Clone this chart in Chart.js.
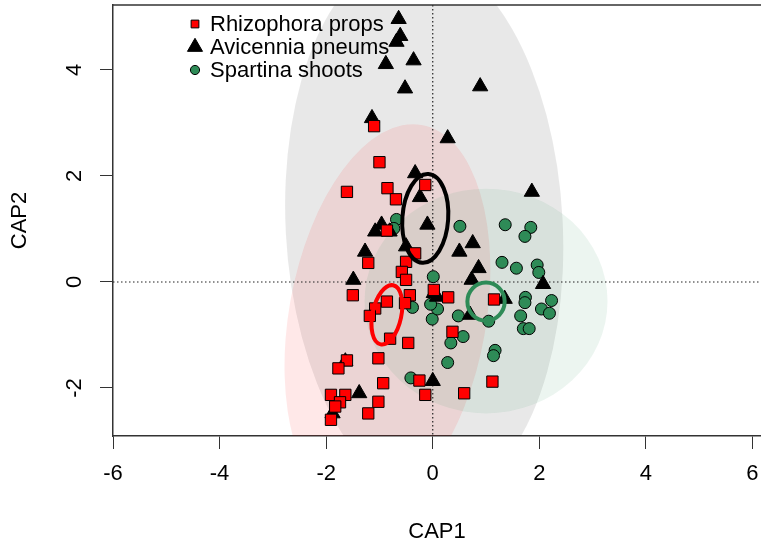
<!DOCTYPE html>
<html>
<head>
<meta charset="utf-8">
<script src="https://cdn.jsdelivr.net/npm/chart.js@4.4.1/dist/chart.umd.min.js"></script>
<style>
  html, body { margin: 0; padding: 0; background: #fff; }
</style>
</head>
<body>
<canvas id="capChart" width="761" height="550"></canvas>
<script>
const groups = ['Rhizophora props', 'Avicennia pneums', 'Spartina shoots'];

const rhizophora = [
  [-1.10, 2.94], [-1.00, 2.26], [-1.61, 1.70], [-0.85, 1.77], [-0.69, 1.56], [-0.14, 1.83],
  [-0.86, 0.97], [-1.21, 0.36], [-0.33, 0.54], [-0.50, 0.38], [-0.58, 0.19], [-0.50, 0.04],
  [-1.50, -0.25], [-0.43, -0.25], [-0.52, -0.40], [-0.86, -0.37], [-1.08, -0.50], [-1.18, -0.64],
  [-0.80, -1.07], [-0.46, -1.15], [-1.02, -1.44], [-1.61, -1.48], [-1.77, -1.63], [-0.93, -1.91],
  [-0.25, -1.86], [-0.14, -2.13], [-1.91, -2.13], [-1.64, -2.13], [-1.74, -2.27], [-1.02, -2.26],
  [-1.21, -2.48], [-1.83, -2.35], [-1.91, -2.60], [0.59, -2.10], [1.12, -1.88], [0.37, -0.94],
  [0.29, -0.29], [0.02, -0.15], [1.15, -0.33]
];

const avicennia = [
  [-0.64, 4.96], [-0.61, 4.64], [-0.68, 4.53], [-0.88, 4.11], [-0.36, 4.18], [-0.52, 3.65],
  [0.89, 3.69], [-1.14, 3.09], [0.28, 2.71], [-0.33, 2.05], [-0.24, 1.60], [-0.10, 1.08],
  [-0.96, 1.08], [-1.08, 0.95], [-0.81, 0.95], [-1.27, 0.57], [-0.50, 0.67], [-1.49, 0.04],
  [0.75, 0.73], [0.50, 0.57], [0.73, 0.04], [1.86, 1.70], [0.86, 0.26], [2.07, -0.04],
  [1.35, -0.32], [0.70, -0.62], [0.02, -0.21], [0.08, -0.28], [-1.64, -1.50], [-1.38, -2.10],
  [0.00, -1.87], [-1.88, -2.48]
];

const spartina = [
  [-0.68, 1.18], [-0.73, 1.01], [0.51, 1.05], [1.36, 1.08], [1.84, 1.03], [1.73, 0.86],
  [1.30, 0.37], [1.57, 0.26], [1.96, 0.32], [1.99, 0.18], [0.01, 0.10], [1.74, -0.29],
  [1.73, -0.39], [2.23, -0.35], [2.04, -0.51], [2.19, -0.59], [1.65, -0.64], [1.70, -0.88],
  [1.81, -0.88], [1.17, -1.29], [1.14, -1.39], [0.28, -1.52], [0.34, -1.15], [0.57, -1.03],
  [0.48, -0.64], [1.05, -0.74], [-0.01, -0.70], [0.09, -0.51], [-0.04, -0.42], [-0.38, -0.48],
  [-0.41, -1.81]
];

const xTicks = [-6, -4, -2, 0, 2, 4, 6];
const yTicks = [-2, 0, 2, 4];

// ellipses: centre x, centre y, half width, half height, rotation (deg, anticlockwise)
const spreadEllipses = [
  [-0.16, 1.05, 2.60, 5.15, 3],    // Avicennia
  [-0.85, -0.68, 1.85, 3.70, -10], // Rhizophora
  [1.00, -0.36, 2.28, 2.12, 0]     // Spartina
];
const centroidEllipses = [
  [-0.14, 1.20, 0.43, 0.84, -4],
  [-0.86, -0.62, 0.27, 0.57, -12],
  [1.00, -0.37, 0.35, 0.36, 0]
];
const spreadColors = ['rgba(0,0,0,0.09)', 'rgba(255,0,0,0.09)', 'rgba(46,139,87,0.09)'];
const lineColors = ['#000000', '#ff0000', '#2e8b57'];

const FONT = '"Liberation Sans", Arial, sans-serif';

function toPts(arr) {
  return arr.map(p => ({ x: p[0], y: p[1] }));
}

function ellipsePath(chart, e) {
  const xs = chart.scales.x, ys = chart.scales.y;
  const ctx = chart.ctx;
  const sx = xs.getPixelForValue(1) - xs.getPixelForValue(0);
  const sy = ys.getPixelForValue(0) - ys.getPixelForValue(1);
  ctx.save();
  ctx.translate(xs.getPixelForValue(e[0]), ys.getPixelForValue(e[1]));
  ctx.scale(sx, -sy);
  ctx.rotate(e[4] * Math.PI / 180);
  ctx.beginPath();
  ctx.ellipse(0, 0, e[2], e[3], 0, 0, Math.PI * 2);
  ctx.restore();
}

const ellipsePlugin = {
  id: 'ellipses',
  beforeDatasetsDraw(chart) {
    const ctx = chart.ctx, a = chart.chartArea;
    ctx.save();
    ctx.beginPath();
    ctx.rect(a.left, a.top, a.right - a.left, a.bottom - a.top);
    ctx.clip();
    spreadEllipses.forEach((e, i) => {
      ellipsePath(chart, e);
      ctx.fillStyle = spreadColors[i];
      ctx.fill();
    });
    // dotted zero lines
    const x0 = chart.scales.x.getPixelForValue(0);
    const y0 = chart.scales.y.getPixelForValue(0);
    ctx.strokeStyle = '#222';
    ctx.lineWidth = 1.2;
    ctx.setLineDash([1.5, 2.5]);
    ctx.beginPath();
    ctx.moveTo(x0, a.top);
    ctx.lineTo(x0, a.bottom);
    ctx.moveTo(a.left, y0);
    ctx.lineTo(a.right, y0);
    ctx.stroke();
    ctx.restore();
  },
  afterDatasetsDraw(chart) {
    const ctx = chart.ctx, a = chart.chartArea;
    ctx.save();
    ctx.beginPath();
    ctx.rect(a.left, a.top, a.right - a.left, a.bottom - a.top);
    ctx.clip();
    centroidEllipses.forEach((e, i) => {
      ellipsePath(chart, e);
      ctx.strokeStyle = lineColors[i];
      ctx.lineWidth = 4;
      ctx.stroke();
    });
    ctx.restore();

    // frame top line
    ctx.save();
    ctx.strokeStyle = '#333';
    ctx.lineWidth = 1.5;
    ctx.beginPath();
    ctx.moveTo(a.left, a.top);
    ctx.lineTo(a.right, a.top);
    ctx.stroke();
    ctx.restore();

    // rotated y tick labels
    const ys = chart.scales.y;
    ctx.save();
    ctx.fillStyle = '#000';
    ctx.font = '22px ' + FONT;
    ctx.textAlign = 'center';
    ctx.textBaseline = 'middle';
    ys.ticks.forEach(t => {
      ctx.save();
      ctx.translate(75, ys.getPixelForValue(t.value));
      ctx.rotate(-Math.PI / 2);
      ctx.fillText(String(t.value), 0, 0);
      ctx.restore();
    });
    ctx.restore();

    // legend
    const items = chart.data.datasets;
    ctx.save();
    ctx.font = '22px ' + FONT;
    ctx.textBaseline = 'middle';
    ctx.textAlign = 'left';
    const rowY = [24, 47, 70];
    const legendR = [5.5, 8.7, 4.6];
    items.forEach((ds, i) => {
      ctx.fillStyle = ds.backgroundColor;
      ctx.strokeStyle = ds.borderColor;
      ctx.lineWidth = 1;
      ctx.beginPath();
      if (ds.pointStyle === 'rect') {
        const s = legendR[i] * Math.SQRT1_2;
        ctx.rect(195 - s, rowY[i] - s, 2 * s, 2 * s);
      } else if (ds.pointStyle === 'triangle') {
        const r = legendR[i];
        ctx.moveTo(195, rowY[i] - r);
        ctx.lineTo(195 + r * Math.sin(2 * Math.PI / 3), rowY[i] + r / 2);
        ctx.lineTo(195 - r * Math.sin(2 * Math.PI / 3), rowY[i] + r / 2);
        ctx.closePath();
      } else {
        ctx.arc(195, rowY[i], legendR[i], 0, Math.PI * 2);
      }
      ctx.fill();
      ctx.stroke();
      ctx.fillStyle = '#000';
      ctx.fillText(ds.label, 210, rowY[i] + 1);
    });
    ctx.restore();
  }
};

const axisFont = { family: FONT, size: 22, lineHeight: 1.2 };

new Chart(document.getElementById('capChart'), {
  type: 'scatter',
  data: {
    datasets: [
      {
        label: groups[0],
        data: toPts(rhizophora),
        pointStyle: 'rect',
        pointRadius: 8,
        backgroundColor: '#ff0000',
        borderColor: '#000000',
        borderWidth: 1
      },
      {
        label: groups[1],
        data: toPts(avicennia),
        pointStyle: 'triangle',
        pointRadius: 8.8,
        backgroundColor: '#000000',
        borderColor: '#000000',
        borderWidth: 1
      },
      {
        label: groups[2],
        data: toPts(spartina),
        pointStyle: 'circle',
        pointRadius: 6,
        backgroundColor: '#2e8b57',
        borderColor: '#000000',
        borderWidth: 1
      }
    ]
  },
  options: {
    responsive: false,
    animation: false,
    events: [],
    layout: { autoPadding: false, padding: { top: 5, left: 0, right: 0, bottom: 0 } },
    plugins: { legend: { display: false }, tooltip: { enabled: false } },
    scales: {
      x: {
        type: 'linear',
        min: -6,
        max: 6.16,
        afterBuildTicks: s => { s.ticks = xTicks.map(v => ({ value: v })); },
        afterFit: s => { s.height = 114; s.paddingLeft = 0; s.paddingRight = 0; },
        grid: { drawOnChartArea: false, drawTicks: true, tickLength: 13, color: '#333', lineWidth: 1 },
        border: { display: true, color: '#333', width: 1.5 },
        ticks: {
          font: axisFont, color: '#000', padding: 12, maxRotation: 0, autoSkip: false,
          callback: v => String(v)
        },
        title: { display: true, text: 'CAP1', font: axisFont, color: '#000', padding: { top: 0, bottom: 5 } }
      },
      y: {
        type: 'linear',
        min: -2.906,
        max: 5.226,
        afterBuildTicks: s => { s.ticks = yTicks.map(v => ({ value: v })); },
        afterFit: s => { s.width = 113; s.paddingTop = 0; s.paddingBottom = 0; },
        grid: { drawOnChartArea: false, drawTicks: true, tickLength: 13, color: '#333', lineWidth: 1 },
        border: { display: true, color: '#333', width: 1.5 },
        ticks: { display: false },
        title: { display: true, text: 'CAP2', font: axisFont, color: '#000', padding: { top: 7, bottom: 0 } }
      }
    }
  },
  plugins: [ellipsePlugin]
});
</script>
</body>
</html>
